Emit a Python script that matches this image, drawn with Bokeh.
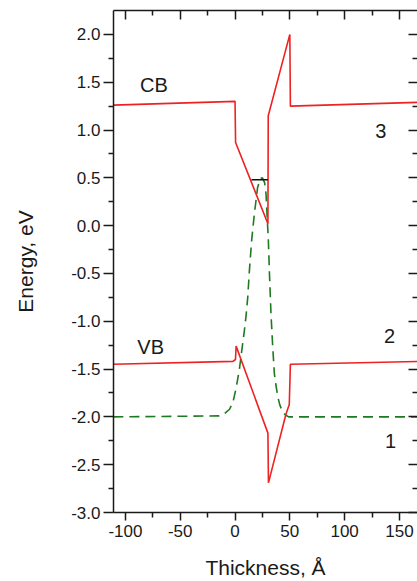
from bokeh.plotting import figure
from bokeh.models import LinearAxis, FixedTicker, PrintfTickFormatter, Range1d, ColumnDataSource
from bokeh.core.properties import value
from bokeh.embed import file_html
from bokeh.resources import INLINE

# ---- data ----
cb_x = [-111, 0, 0.5, 30, 30.3, 50, 50.5, 170]
cb_y = [1.26, 1.30, 0.87, 0.02, 1.15, 2.00, 1.25, 1.29]

vb_x = [-111, -2, 0.4, 1, 30, 30.5, 46.5, 49.5, 50.5, 170]
vb_y = [-1.45, -1.42, -1.40, -1.26, -2.17, -2.69, -1.97, -1.87, -1.45, -1.42]

wf_x = [-111, -15, -10, -5, -2, 1, 4, 6, 8.5, 10, 11.6, 13.1, 15.2, 17.6, 20.6, 23,
        25, 27, 28.3, 29.2, 30.4, 31.4, 32.8, 34.4, 35.9, 37.5, 39, 41, 43.5, 46, 49, 52, 170]
wf_y = [-2.0, -1.99, -1.97, -1.92, -1.85, -1.70, -1.50, -1.32, -1.10, -0.95, -0.75, -0.47,
        -0.15, 0.12, 0.40, 0.49, 0.50, 0.45, 0.33, 0.12, -0.15, -0.50, -0.92, -1.27, -1.55,
        -1.68, -1.79, -1.88, -1.95, -1.98, -2.0, -2.0, -2.0]

level_x = [15, 30]
level_y = [0.48, 0.48]

lbl_text = ["CB", "VB", "3", "2", "1"]
lbl_x = [-74, -77, 133, 141, 142]
lbl_y = [1.47, -1.27, 0.99, -1.15, -2.25]

x_major = [-100, -50, 0, 50, 100, 150]
x_minor = [-75, -25, 25, 75, 125]
y_major = [-3.0, -2.5, -2.0, -1.5, -1.0, -0.5, 0.0, 0.5, 1.0, 1.5, 2.0]
y_minor = [-2.75, -2.25, -1.75, -1.25, -0.75, -0.25, 0.25, 0.75, 1.25, 1.75]

FONT = "Liberation Sans"
INK = "#1a1a1a"

p = figure(width=417, height=581, output_backend="svg", toolbar_location=None,
           x_range=Range1d(-110.9, 166.5), y_range=Range1d(-3.0, 2.25),
           min_border_left=113, min_border_right=0, min_border_top=10, min_border_bottom=69)
p.outline_line_color = None
p.xgrid.visible = False
p.ygrid.visible = False
p.background_fill_color = "white"


def style(ax, tin, tout, mtin, mtout):
    ax.axis_line_color = INK
    ax.axis_line_width = 1.5
    ax.major_tick_line_color = INK
    ax.minor_tick_line_color = INK
    ax.major_tick_line_width = 1.5
    ax.minor_tick_line_width = 1.5
    ax.major_tick_in = tin
    ax.major_tick_out = tout
    ax.minor_tick_in = mtin
    ax.minor_tick_out = mtout
    ax.major_label_text_font = FONT
    ax.major_label_text_font_size = "17px"
    ax.major_label_text_color = INK
    ax.axis_label_text_font = FONT
    ax.axis_label_text_font_size = "21px"
    ax.axis_label_text_font_style = "normal"
    ax.axis_label_text_color = INK


xa = p.xaxis[0]
xa.ticker = FixedTicker(ticks=x_major, minor_ticks=x_minor)
xa.formatter = PrintfTickFormatter(format="%d")
style(xa, 0, 8, 0, 5)
xa.major_label_standoff = 4
xa.axis_label = "Thickness, Å"
xa.axis_label_standoff = 16

ya = p.yaxis[0]
ya.ticker = FixedTicker(ticks=y_major, minor_ticks=y_minor)
ya.formatter = PrintfTickFormatter(format="%.1f")
style(ya, 0, 10, 0, 5)
ya.major_label_standoff = 3
ya.axis_label = "Energy, eV"
ya.axis_label_standoff = 31


def tick_only_axis(minor, long_len, line_color):
    ax = LinearAxis(ticker=FixedTicker(ticks=[], minor_ticks=minor))
    style(ax, 0, 0, long_len, 0)
    ax.axis_line_color = line_color
    ax.major_label_standoff = 0
    ax.axis_label_standoff = 0
    return ax


# top: inward ticks (long at major positions, short at minor positions)
p.add_layout(tick_only_axis(x_major, 9, INK), "above")
p.add_layout(tick_only_axis(x_minor, 5, None), "above")
# right: inward ticks, frame line lies just outside the picture
p.add_layout(tick_only_axis(y_major, 9, None), "right")
p.add_layout(tick_only_axis(y_minor, 5, None), "right")

p.line(wf_x, wf_y, line_color="#1f7a1f", line_width=1.6, line_dash="10 6")
p.line(cb_x, cb_y, line_color="#ee2222", line_width=1.6)
p.line(vb_x, vb_y, line_color="#ee2222", line_width=1.6)
p.line(level_x, level_y, line_color="#111111", line_width=1.4)

src = ColumnDataSource(dict(x=lbl_x, y=lbl_y, t=lbl_text))
p.text(x="x", y="y", text="t", source=src, text_font=value(FONT), text_font_size=value("20px"),
       text_align="center", text_baseline="middle", text_color=INK)

open("out.html", "w").write(file_html(p, INLINE))
